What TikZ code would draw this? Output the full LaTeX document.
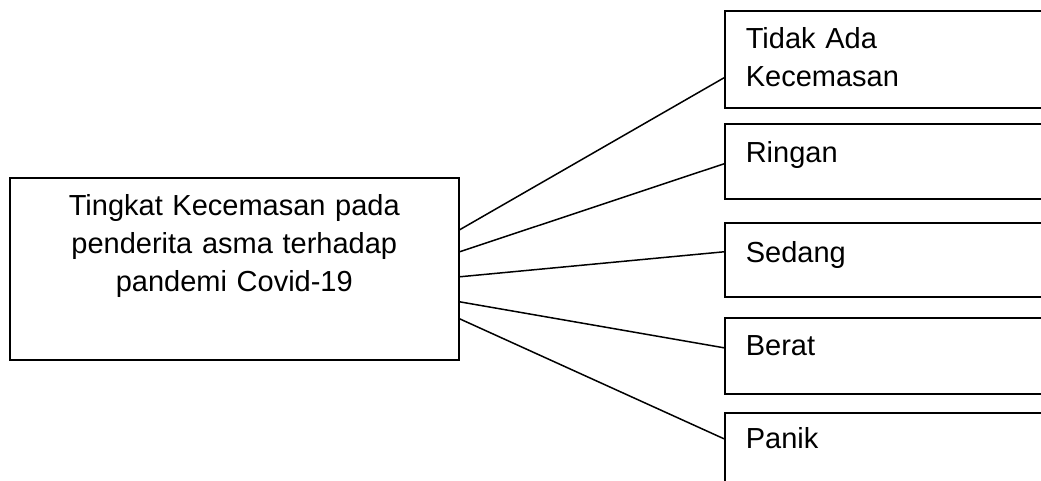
\documentclass[tikz,border=0pt]{standalone}
\usepackage{fontspec}
\setmainfont{Liberation Sans}
\usetikzlibrary{positioning}

\begin{document}
\begin{tikzpicture}[x=1pt,y=-1pt,font=\fontsize{29}{38}\selectfont,
  box/.style={draw,line width=1.6pt,inner sep=0pt,anchor=north west},
  mainbox/.style={box,align=center,text width=449pt,text height=38pt,text depth=144pt},
  levelbox/.style={box,align=left,inner xsep=21pt,text width=288pt,
                   text height=39pt,text depth=36pt},
  link/.style={line width=1.5pt}]
\useasboundingbox (0,0) rectangle (1041,481);
\node[mainbox] (main) at (9,177) {Tingkat Kecemasan pada\\penderita asma terhadap\\pandemi Covid-19};
% anxiety levels
\node[levelbox,text height=38pt,text depth=59pt] (none) at (724,10) {Tidak Ada\\Kecemasan};
\node[levelbox] (mild) at (724,123) {Ringan};
\node[levelbox,text height=40pt,text depth=34pt] (moderate) at (724,222) {Sedang};
\node[levelbox,text height=38pt,text depth=38pt] (severe) at (724,317) {Berat};
\node[levelbox,text height=36pt] (panic) at (724,412) {Panik};
\draw[link] ([yshift=39pt]main.east) -- ([yshift=-18.5pt]none.west);
\draw[link] ([yshift=17pt]main.east) -- ([yshift=-2.5pt]mild.west);
\draw[link] ([yshift=-8pt]main.east) -- ([yshift=8pt]moderate.west);
\draw[link] ([yshift=-33pt]main.east) -- ([yshift=8pt]severe.west);
\draw[link] ([yshift=-50pt]main.east) -- ([yshift=10pt]panic.west);
\end{tikzpicture}
\end{document}
